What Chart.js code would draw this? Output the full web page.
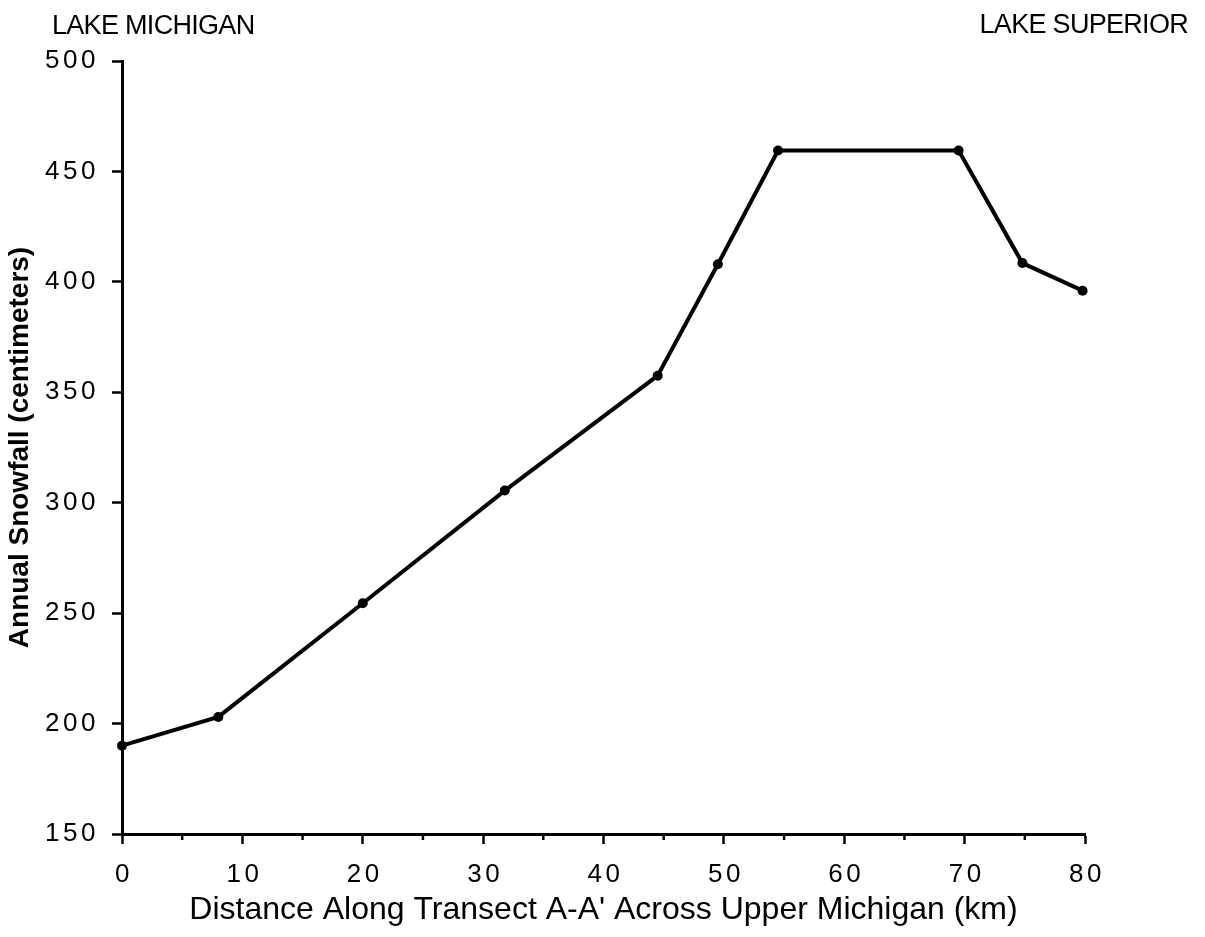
<!DOCTYPE html>
<html>
<head>
<meta charset="utf-8">
<script src="https://cdn.jsdelivr.net/npm/chart.js@4.4.0/dist/chart.umd.min.js"></script>
<style>
    html, body { margin: 0; padding: 0; background: #fff; }
    #wrap { width: 1205px; height: 937px; }
</style>
</head>
<body>
<div id="wrap"><canvas id="snowChart" width="1205" height="937"></canvas></div>
<script>
// Data
const distanceKm = [0, 8, 20, 31.8, 44.5, 49.5, 54.5, 69.5, 74.8, 79.8];
const snowfallCm = [190, 203, 254.5, 305.5, 357.5, 408, 459.5, 459.5, 408.5, 396];
const xTicks = [0, 10, 20, 30, 40, 50, 60, 70, 80];
const xMinorTicks = [5, 15, 25, 35, 45, 55, 65, 75];
const yTicks = [150, 200, 250, 300, 350, 400, 450, 500];
const lakeLabels = ['LAKE MICHIGAN', 'LAKE SUPERIOR'];

const FONT = "'Liberation Sans', Arial, Helvetica, sans-serif";

// tick labels in the original are widely spaced
const spacedTicks = {
    id: 'spacedTicks',
    afterDatasetsDraw(chart) { chart.ctx.letterSpacing = '3.5px'; },
    afterDraw(chart) { chart.ctx.letterSpacing = '0px'; }
};

// minor ticks on the x axis + lake labels
const extras = {
    id: 'extras',
    afterDraw(chart) {
        const { ctx, scales: { x } } = chart;
        ctx.save();
        ctx.letterSpacing = '0px';
        ctx.strokeStyle = '#000';
        ctx.lineWidth = 2.5;
        xMinorTicks.forEach(v => {
            const px = x.getPixelForValue(v);
            ctx.beginPath();
            ctx.moveTo(px, x.top);
            ctx.lineTo(px, x.top + 6);
            ctx.stroke();
        });
        ctx.fillStyle = '#000';
        ctx.font = '27px ' + FONT;
        ctx.letterSpacing = '-0.7px';
        ctx.textBaseline = 'alphabetic';
        ctx.textAlign = 'left';
        ctx.fillText(lakeLabels[0], 52, 34);
        ctx.textAlign = 'right';
        ctx.fillText(lakeLabels[1], 1188, 33);
        ctx.restore();
    }
};

const ctx = document.getElementById('snowChart').getContext('2d');
new Chart(ctx, {
    type: 'line',
    data: {
        datasets: [{
            data: distanceKm.map((d, i) => ({ x: d, y: snowfallCm[i] })),
            borderColor: '#000',
            backgroundColor: '#000',
            borderWidth: 4,
            pointRadius: 5,
            pointBackgroundColor: '#000',
            pointBorderWidth: 0,
            tension: 0,
            fill: false,
            clip: false
        }]
    },
    options: {
        responsive: false,
        animation: false,
        events: [],
        layout: { padding: { top: 61, right: 120, left: 0, bottom: 0 } },
        plugins: {
            legend: { display: false },
            tooltip: { enabled: false }
        },
        scales: {
            x: {
                type: 'linear',
                min: 0,
                max: 80,
                afterBuildTicks: s => { s.ticks = xTicks.map(v => ({ value: v })); },
                afterFit: s => { s.height = 103; },
                grid: { drawOnChartArea: false, drawTicks: true, tickLength: 10, tickWidth: 2.5, tickColor: '#000' },
                border: { color: '#000', width: 3 },
                ticks: {
                    color: '#000',
                    font: { family: FONT, size: 26 },
                    padding: 15,
                    labelOffset: 2,
                    maxRotation: 0,
                    autoSkip: false,
                    z: 1
                },
                title: {
                    display: true,
                    text: "Distance Along Transect A-A' Across Upper Michigan (km)",
                    color: '#000',
                    font: { family: FONT, size: 32 },
                    padding: { top: 0, bottom: 8 }
                }
            },
            y: {
                min: 150,
                max: 500,
                afterBuildTicks: s => { s.ticks = yTicks.map(v => ({ value: v })); },
                afterFit: s => { s.width = 122; },
                grid: { drawOnChartArea: false, drawTicks: true, tickLength: 10, tickWidth: 2.5, tickColor: '#000' },
                border: { color: '#000', width: 3 },
                ticks: {
                    color: '#000',
                    font: { family: FONT, size: 26 },
                    padding: 13,
                    z: 1
                },
                title: {
                    display: true,
                    text: 'Annual Snowfall (centimeters)',
                    color: '#000',
                    font: { family: FONT, size: 28, weight: 'bold' },
                    padding: { top: 3, bottom: 0 }
                }
            }
        }
    },
    plugins: [spacedTicks, extras]
});
</script>
</body>
</html>
